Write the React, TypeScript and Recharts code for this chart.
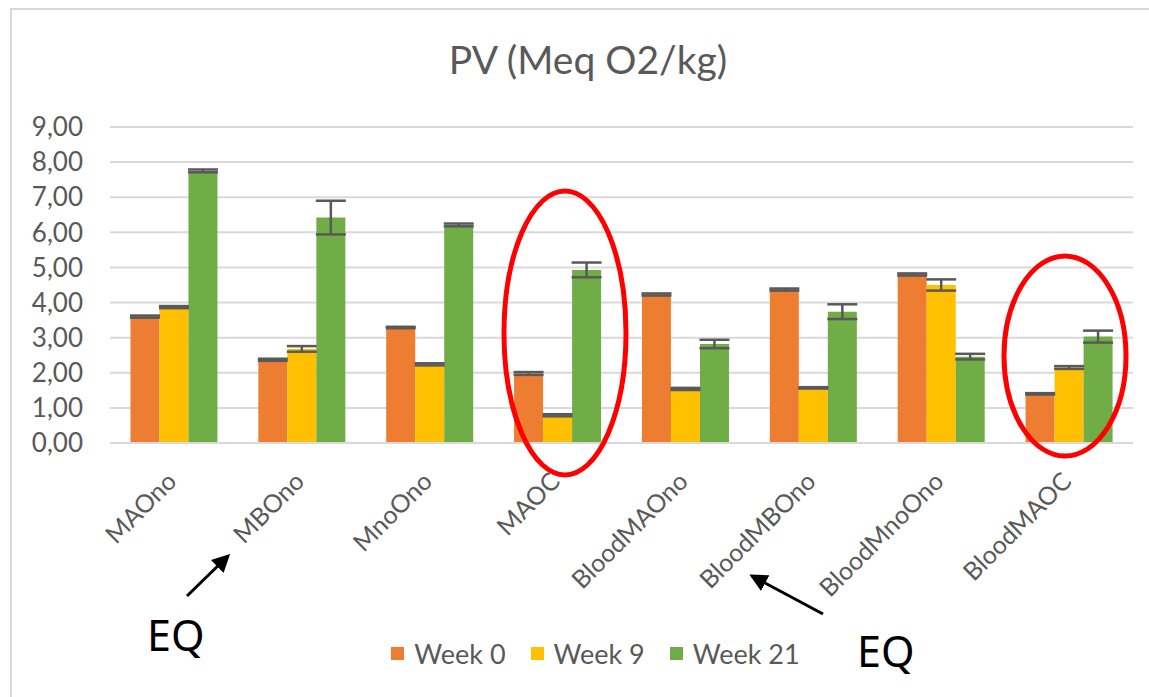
import React from 'react';
import { BarChart, Bar, XAxis, YAxis, CartesianGrid, Legend, ErrorBar } from 'recharts';

const categories = ['MAOno', 'MBOno', 'MnoOno', 'MAOC', 'BloodMAOno', 'BloodMBOno', 'BloodMnoOno', 'BloodMAOC'];
const week0 = [3.6, 2.37, 3.29, 1.98, 4.23, 4.37, 4.8, 1.4];
const week9 = [3.87, 2.68, 2.24, 0.79, 1.54, 1.57, 4.5, 2.15];
const week21 = [7.75, 6.42, 6.21, 4.93, 2.82, 3.74, 2.46, 3.03];
const err0 = [0.03, 0.03, 0.02, 0.04, 0.03, 0.03, 0.03, 0.02];
const err9 = [0.03, 0.08, 0.03, 0.03, 0.03, 0.02, 0.16, 0.04];
const err21 = [0.04, 0.48, 0.04, 0.21, 0.12, 0.21, 0.08, 0.17];
const yTicks = [0, 1, 2, 3, 4, 5, 6, 7, 8, 9];

const seriesNames = ['Week 0', 'Week 9', 'Week 21'];
const seriesColors = ['#ED7D31', '#FFC000', '#70AD47'];

const data = categories.map((name, i) => ({
  name,
  w0: week0[i],
  w9: week9[i],
  w21: week21[i],
  e0: err0[i],
  e9: err9[i],
  e21: err21[i],
}));

const FONT = 'Lato, "Open Sans", sans-serif';
const GREY = '#595959';

const XTick = ({ x, y, payload }: any) => (
  <g transform={`translate(${x + 4},${y + 40})`}>
    <text
      x={0}
      y={0}
      textAnchor="end"
      transform="rotate(-45)"
      fill={GREY}
      fontSize={25}
      fontFamily={FONT}
    >
      {payload.value}
    </text>
  </g>
);

const renderLegend = () => (
  <div
    style={{
      display: 'flex',
      justifyContent: 'center',
      alignItems: 'center',
      height: 40,
      paddingLeft: 58,
      fontFamily: FONT,
      fontSize: 27,
      color: GREY,
      gap: 25,
    }}
  >
    {seriesNames.map((n, i) => (
      <div key={n} style={{ display: 'flex', alignItems: 'center', gap: 10 }}>
        <span style={{ width: 13, height: 13, background: seriesColors[i], display: 'inline-block' }} />
        <span>{n}</span>
      </div>
    ))}
  </div>
);

export default function App() {
  return (
    <div style={{ position: 'fixed', left: 0, top: 0, width: 1149, height: 697, background: '#fff', overflow: 'hidden' }}>
      <div
        style={{
          position: 'absolute',
          left: 10,
          top: 8,
          right: -10,
          bottom: -10,
          borderLeft: '2px solid #d9d9d9',
          borderTop: '2px solid #d9d9d9',
        }}
      />
      <div style={{ position: 'absolute', left: 0, top: 0 }}>
        <BarChart
          width={1149}
          height={697}
          data={data}
          margin={{ top: 127, right: 16, left: 0, bottom: 24 }}
          barCategoryGap="16%"
          barGap={0}
        >
          <CartesianGrid vertical={false} stroke="#d9d9d9" strokeWidth={2} />
          <XAxis
            dataKey="name"
            interval={0}
            height={190}
            tickLine={false}
            tickSize={0}
            tickMargin={0}
            axisLine={{ stroke: '#d9d9d9', strokeWidth: 2 }}
            tick={<XTick />}
          />
          <YAxis
            width={110}
            domain={[0, 9]}
            ticks={yTicks}
            interval={0}
            axisLine={false}
            tickLine={false}
            tickSize={0}
            tickMargin={27}
            tickFormatter={(v: number) => v.toFixed(2).replace('.', ',')}
            tick={{ fill: GREY, fontSize: 26, fontFamily: FONT }}
          />
          <Legend verticalAlign="bottom" content={renderLegend} />
          <Bar dataKey="w0" name={seriesNames[0]} fill={seriesColors[0]} isAnimationActive={false}>
            <ErrorBar dataKey="e0" width={15} strokeWidth={2.5} stroke={GREY} direction="y" />
          </Bar>
          <Bar dataKey="w9" name={seriesNames[1]} fill={seriesColors[1]} isAnimationActive={false}>
            <ErrorBar dataKey="e9" width={15} strokeWidth={2.5} stroke={GREY} direction="y" />
          </Bar>
          <Bar dataKey="w21" name={seriesNames[2]} fill={seriesColors[2]} isAnimationActive={false}>
            <ErrorBar dataKey="e21" width={15} strokeWidth={2.5} stroke={GREY} direction="y" />
          </Bar>
        </BarChart>
      </div>
      <svg width={1149} height={697} style={{ position: 'absolute', left: 0, top: 0, pointerEvents: 'none' }}>
        <defs>
          <marker id="head" markerWidth="6" markerHeight="6" refX="5" refY="3" orient="auto" markerUnits="strokeWidth">
            <path d="M0,0 L6,3 L0,6 z" fill="#000" />
          </marker>
        </defs>
        <text x={588} y={74} textAnchor="middle" fontSize={39} fontFamily={FONT} fill={GREY}>
          PV (Meq O2/kg)
        </text>
        <ellipse cx={565} cy={333} rx={61} ry={142} fill="none" stroke="#FF0000" strokeWidth={5} />
        <ellipse cx={1065} cy={356} rx={61} ry={100} fill="none" stroke="#FF0000" strokeWidth={5} />
        <line x1={187} y1={596} x2={228} y2={556} stroke="#000" strokeWidth={3} markerEnd="url(#head)" />
        <line x1={823} y1={614} x2={752} y2={576} stroke="#000" strokeWidth={3} markerEnd="url(#head)" />
        <text x={147} y={651} fontSize={43} fontFamily='"Noto Sans", sans-serif' fill="#000">EQ</text>
        <text x={857} y={667} fontSize={43} fontFamily='"Noto Sans", sans-serif' fill="#000">EQ</text>
      </svg>
    </div>
  );
}
